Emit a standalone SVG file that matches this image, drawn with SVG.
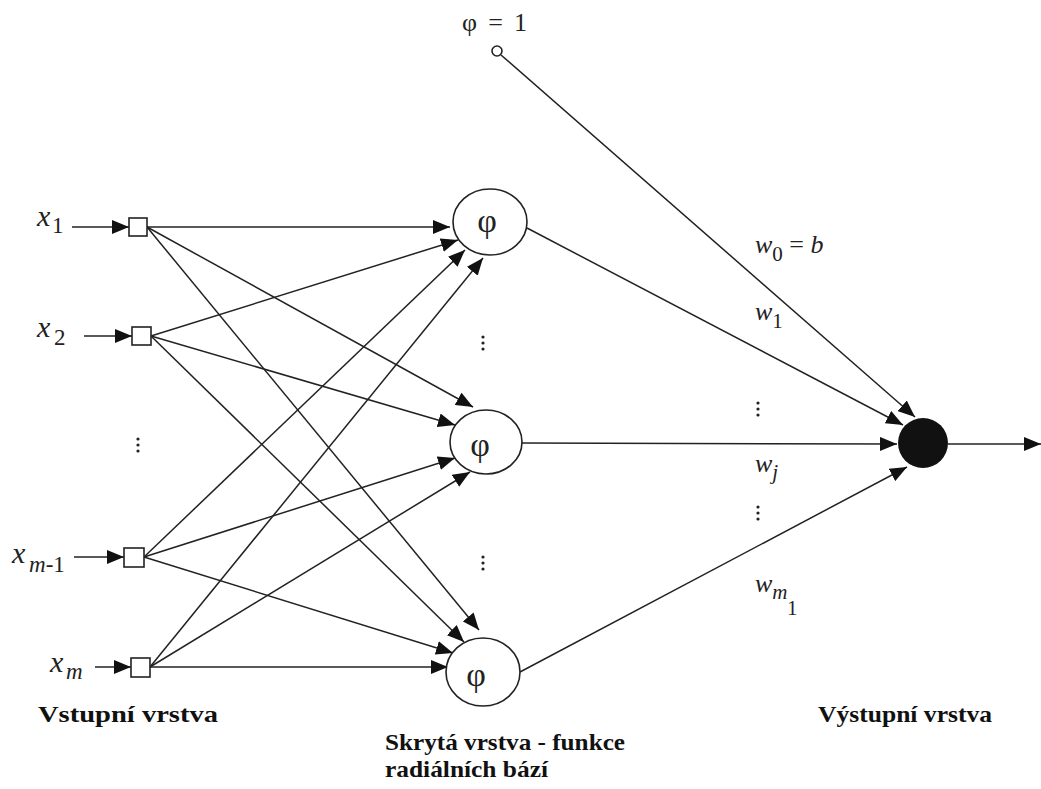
<svg xmlns="http://www.w3.org/2000/svg" width="1041" height="789" viewBox="0 0 1041 789">
<defs>
<marker id="ah" markerUnits="userSpaceOnUse" markerWidth="18" markerHeight="14" refX="17" refY="7" orient="auto">
<path d="M0,0 L17,7 L0,14 Z" fill="#111"/>
</marker>
<style>
.ar{stroke:#222;stroke-width:1.5;fill:none;marker-end:url(#ah)}
.sq{fill:#fff;stroke:#222;stroke-width:1.6}
.el{fill:#fff;stroke:#222;stroke-width:1.6}
.it{font-style:italic;fill:#222}
.rm{font-style:normal;fill:#222}
.bd{font-weight:bold;font-size:24px;fill:#111}
.dot{fill:#222}
</style>
</defs>
<rect width="1041" height="789" fill="#fff"/>
<g id="connectors">
<line class="ar" x1="72" y1="227" x2="129" y2="227"/>
<line class="ar" x1="84" y1="336" x2="132" y2="336"/>
<line class="ar" x1="74" y1="557" x2="124" y2="557"/>
<line class="ar" x1="95" y1="667" x2="131" y2="667"/>
<line class="ar" x1="147" y1="227" x2="450" y2="227"/>
<line class="ar" x1="147" y1="227" x2="473" y2="407"/>
<line class="ar" x1="147" y1="227" x2="479" y2="630"/>
<line class="ar" x1="151" y1="336" x2="458" y2="240"/>
<line class="ar" x1="151" y1="336" x2="455" y2="425"/>
<line class="ar" x1="151" y1="336" x2="464" y2="642"/>
<line class="ar" x1="144" y1="557" x2="465" y2="250"/>
<line class="ar" x1="144" y1="557" x2="455" y2="458"/>
<line class="ar" x1="144" y1="557" x2="453" y2="653"/>
<line class="ar" x1="150" y1="667" x2="483" y2="258"/>
<line class="ar" x1="150" y1="667" x2="470" y2="472"/>
<line class="ar" x1="150" y1="667" x2="448" y2="667"/>
<line class="ar" x1="501" y1="55" x2="915" y2="417"/>
<line class="ar" x1="527" y1="228" x2="903" y2="425"/>
<line class="ar" x1="522" y1="443" x2="897" y2="444"/>
<line class="ar" x1="520" y1="672" x2="907" y2="467"/>
<line class="ar" x1="948" y1="444" x2="1041" y2="444"/>
</g>
<g font-family="Times New Roman, Liberation Serif, Tinos, DejaVu Serif, serif">
<g id="in1"><rect class="sq" x="129" y="218" width="18" height="18"/>
<text class="it" x="37" y="226" font-size="30">x</text><text class="rm" x="52" y="233" font-size="23">1</text></g>
<g id="in2"><rect class="sq" x="132" y="327" width="19" height="18"/>
<text class="it" x="37" y="337" font-size="30">x</text><text class="rm" x="54" y="345" font-size="23">2</text></g>
<g id="indots"><circle class="dot" cx="138" cy="439" r="1.6"/><circle class="dot" cx="138" cy="445" r="1.6"/><circle class="dot" cx="138" cy="451" r="1.6"/></g>
<g id="in3"><rect class="sq" x="124" y="548" width="20" height="19"/>
<text class="it" x="12" y="563" font-size="30">x</text><text x="29" y="572" font-size="23"><tspan class="it">m</tspan><tspan class="rm">-1</tspan></text></g>
<g id="in4"><rect class="sq" x="131" y="658" width="19" height="19"/>
<text class="it" x="50" y="672" font-size="30">x</text><text class="it" x="66" y="679" font-size="23">m</text></g>
<g id="h1"><ellipse class="el" cx="490" cy="222" rx="37" ry="33"/><text class="rm" x="487" y="232" font-size="34" text-anchor="middle">φ</text></g>
<g id="hdots1"><circle class="dot" cx="483" cy="337" r="1.6"/><circle class="dot" cx="483" cy="343" r="1.6"/><circle class="dot" cx="483" cy="349" r="1.6"/></g>
<g id="h2"><ellipse class="el" cx="486" cy="442" rx="36" ry="32"/><text class="rm" x="480" y="456" font-size="34" text-anchor="middle">φ</text></g>
<g id="hdots2"><circle class="dot" cx="483" cy="557" r="1.6"/><circle class="dot" cx="483" cy="563" r="1.6"/><circle class="dot" cx="483" cy="569" r="1.6"/></g>
<g id="h3"><ellipse class="el" cx="483" cy="672" rx="37" ry="34"/><text class="rm" x="476" y="686" font-size="34" text-anchor="middle">φ</text></g>
<g id="bias"><circle cx="497" cy="51" r="5" fill="#fff" stroke="#222" stroke-width="1.6"/><text class="rm" x="462" y="31" font-size="26" textLength="65">φ = 1</text></g>
<g id="out"><circle cx="923" cy="443" r="25" fill="#111"/></g>
<g id="wlabels">
<text x="755" y="253" font-size="26"><tspan class="it">w</tspan><tspan class="rm" font-size="21" dy="8">0</tspan><tspan class="rm" dy="-8"> = </tspan><tspan class="it">b</tspan></text>
<text x="755" y="320" font-size="26"><tspan class="it">w</tspan><tspan class="rm" font-size="21" dy="8">1</tspan></text>
<circle class="dot" cx="758" cy="403" r="1.6"/><circle class="dot" cx="758" cy="409" r="1.6"/><circle class="dot" cx="758" cy="415" r="1.6"/>
<text x="755" y="472" font-size="26"><tspan class="it">w</tspan><tspan class="it" font-size="21" dy="7">j</tspan></text>
<circle class="dot" cx="758" cy="507" r="1.6"/><circle class="dot" cx="758" cy="513" r="1.6"/><circle class="dot" cx="758" cy="519" r="1.6"/>
<text x="755" y="592" font-size="26"><tspan class="it">w</tspan><tspan class="it" font-size="21" dy="7">m</tspan></text>
<text class="rm" x="787" y="615" font-size="21">1</text>
</g>
<g id="captions">
<text class="bd" x="38" y="722" textLength="180" lengthAdjust="spacingAndGlyphs">Vstupní vrstva</text>
<text class="bd" x="385" y="750" textLength="240" lengthAdjust="spacingAndGlyphs">Skrytá vrstva - funkce</text>
<text class="bd" x="385" y="777" textLength="163" lengthAdjust="spacingAndGlyphs">radiálních bází</text>
<text class="bd" x="818" y="722" textLength="174" lengthAdjust="spacingAndGlyphs">Výstupní vrstva</text>
</g>
</g>
</svg>
